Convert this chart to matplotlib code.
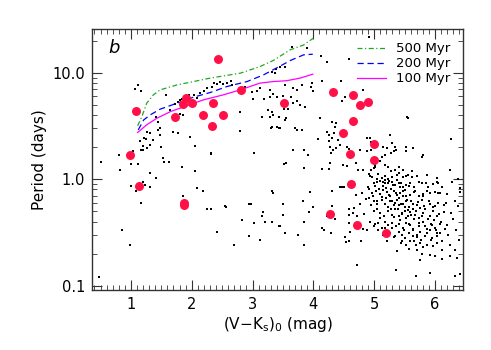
import matplotlib
matplotlib.use("Agg")
import matplotlib.pyplot as plt
from matplotlib.ticker import FixedLocator, LogLocator, MultipleLocator, NullFormatter
import numpy as np

# ---- data ----
# field / comparison stars (black dots): (V-Ks)0, period (days)
dots_x = [
    # lower-left
    0.48, 0.51, 0.81, 0.82, 0.86, 0.99, 1.00, 1.04, 1.11, 1.00, 1.08, 1.16, 1.20, 1.16, 1.20, 1.23,
    1.32, 1.32, 1.41, 1.53, 1.55, 1.63, 1.84, 1.86, 2.05, 2.08, 2.18, 2.32, 2.25, 2.32, 2.42, 2.54,
    2.56, 2.70, 2.83, 2.94, 2.97, 2.94, 3.02, 3.03, 3.13, 3.15, 3.17, 3.20, 3.32, 3.32, 3.34, 3.44,
    # upper-left
    1.07, 1.11, 1.16, 1.21, 1.25, 1.27, 1.32, 1.15, 1.20, 1.26, 1.32, 1.36, 1.44, 1.47, 1.48, 1.45,
    1.42, 1.50, 1.58, 1.65, 1.70, 1.77, 1.73, 1.77, 1.80, 1.86, 1.81, 1.84, 1.97, 2.06, 1.95, 2.03,
    2.08, 2.14, 2.20, 2.25, 2.33, 2.36, 2.41, 2.46, 2.52, 2.58, 2.64, 2.66, 2.88, 2.80, 2.80, 2.31,
    3.01, 3.15, 3.29, 3.32, 3.26, 3.32, 3.43, 3.18, 3.28, 3.34, 2.99, 3.07, 3.12,
    # upper-right
    4.92, 4.58, 4.12, 4.22, 3.89, 3.65, 3.54, 3.45, 3.32, 3.37, 3.39, 3.29, 3.54, 3.67, 3.73, 3.81,
    3.96, 3.99, 3.97, 4.14, 4.45, 3.50, 3.63, 3.67, 3.73, 3.86, 3.78, 3.40, 3.59, 3.52, 3.43, 3.33,
    3.55, 3.54, 4.11, 4.30, 4.47, 4.52, 4.81, 4.36, 4.38, 3.31, 3.40, 3.45, 3.70, 3.73, 3.81, 4.07,
    4.22, 4.25, 4.30, 4.26, 4.41, 4.34, 4.88, 4.93, 4.94, 5.26, 5.54, 5.56, 6.27, 4.27, 4.38, 4.44,
    4.55, 4.59, 5.15, 5.21, 5.29, 5.34, 5.53, 5.64,
    # dense red-dwarf cluster
    3.67, 3.84, 3.91, 4.29, 4.32, 4.77, 4.88, 4.95, 5.12, 5.18, 5.28, 5.32, 5.36, 5.53, 5.78, 5.81,
    3.51, 3.55, 3.84, 4.14, 4.27, 4.26, 4.49, 4.58, 4.56, 4.70, 4.74, 4.81, 4.95, 4.99, 5.01, 5.18,
    5.23, 6.25,
    4.92, 4.93, 5.27, 5.34, 5.37, 5.41, 5.47, 5.53, 5.56, 5.62, 5.70, 6.03, 5.29, 5.04, 5.12, 5.18,
    5.23,
    4.99, 5.05, 5.15, 5.18, 5.23, 5.29, 5.34, 5.40, 5.44, 5.48, 5.52, 5.59, 5.65, 5.73, 5.78, 5.85,
    5.89, 5.96, 6.03, 6.05, 6.38, 6.41, 4.47, 4.50, 4.43, 3.95, 4.30, 4.70,
    4.92, 4.96, 5.03, 5.10, 5.15, 5.21, 5.26, 5.32, 5.37, 5.42, 5.48, 5.53, 5.59, 5.65, 5.74, 5.81,
    5.86, 5.92, 6.00, 6.05, 6.09, 6.41,
    4.92, 4.99, 5.04, 5.12, 5.18, 5.26, 5.32, 5.37, 5.41, 5.47, 5.52, 5.58, 5.64, 5.70, 5.78, 5.82,
    5.92, 6.00, 6.05, 6.14, 6.38, 4.30, 4.00, 3.50, 3.83, 4.58, 4.66,
    4.99, 5.04, 5.10, 5.16, 5.23, 5.29, 5.34, 5.40, 5.45, 5.51, 5.55, 5.59, 5.67, 5.74, 5.81, 5.91,
    5.97, 6.03, 6.14, 6.27, 4.65, 4.58, 3.92, 4.22,
    4.93, 5.00, 5.07, 5.12, 5.18, 5.23, 5.30, 5.36, 5.41, 5.47, 5.53, 5.59, 5.64, 5.73, 5.80, 5.87,
    5.95, 6.00, 6.08, 6.19, 3.50, 3.84, 4.14, 4.17, 4.36, 4.58, 4.60, 4.81, 4.88, 5.07, 5.18,
    5.26, 5.33, 5.40, 5.45, 5.51, 5.58, 5.64, 5.70, 5.76, 5.84, 5.91, 5.95, 6.03, 6.09, 3.45, 3.54,
    3.75, 4.29, 4.52, 4.54, 4.59, 4.79,
    5.45, 5.53, 5.59, 5.69, 5.75, 5.81, 5.86, 5.97, 6.03, 6.11, 6.25, 3.85, 5.38,
    5.70, 5.78, 5.92, 6.00, 6.11, 6.25, 6.33, 6.36, 5.75,
    4.72, 5.36, 5.68, 5.91, 6.33, 6.41,
    # extra core of the cluster
    4.97, 5.02, 5.06, 5.08, 5.10, 5.13, 5.14, 5.17, 5.19, 5.20, 5.22, 5.24, 5.25, 5.27, 5.28, 5.30,
    5.31, 5.33, 5.35, 5.36, 5.38, 5.39, 5.40, 5.42, 5.43, 5.44, 5.46, 5.47, 5.49, 5.50, 5.51, 5.53,
    5.54, 5.56, 5.57, 5.58, 5.60, 5.61, 5.63, 5.64, 5.66, 5.67, 5.69, 5.71, 5.72, 5.74, 5.76, 5.77,
    5.79, 5.80, 5.83, 5.84, 5.86, 5.88, 5.90, 5.93, 5.94, 5.97, 5.99, 6.02, 6.04, 6.06, 6.10, 6.12,
    6.16, 6.18, 6.22, 6.30, 6.35, 6.40, 5.05, 5.09, 4.98, 4.95, 4.90, 4.86, 4.84, 4.80, 4.76, 4.72,
    5.01, 5.14, 5.21, 5.29, 5.35, 5.44, 5.58, 5.65, 5.02, 5.10, 5.40, 5.48, 5.62, 5.87, 6.12, 6.20,
    6.28, 6.33,
]
dots_p = [
    # lower-left
    0.12, 1.45, 1.69, 1.22, 0.33, 0.24, 1.39, 1.82, 1.39, 0.87, 0.78, 1.86, 1.88, 0.60, 0.94, 0.89,
    1.14, 0.84, 1.02, 1.57, 1.46, 1.46, 1.31, 0.69, 1.18, 0.83, 0.78, 1.74, 0.53, 0.53, 0.32, 0.56,
    0.55, 0.24, 0.41, 0.59, 0.59, 0.29, 0.39, 1.75, 0.27, 0.45, 0.49, 0.40, 0.40, 0.78, 0.74, 0.36,
    # upper-left
    7.0, 7.6, 6.75, 2.43, 2.38, 2.8, 2.7, 2.3, 2.05, 1.95, 2.1, 2.34, 2.9, 2.6, 3.0, 3.47,
    3.8, 2.02, 6.15, 4.48, 2.8, 2.74, 5.1, 5.32, 4.1, 4.0, 5.55, 5.7, 2.51, 2.05, 6.23, 6.19,
    5.76, 6.42, 6.75, 7.15, 7.41, 7.97, 7.8, 8.25, 7.85, 8.07, 8.37, 7.68, 7.41, 4.31, 2.84, 1.75,
    5.7, 3.87, 3.87, 4.31, 4.48, 3.08, 3.0, 5.64, 5.89, 6.32, 6.65, 6.75, 7.15,
    # upper-right
    21.8, 13.5, 14.4, 12.7, 17.0, 17.3, 11.4, 11.4, 10.2, 9.9, 10.8, 6.89, 7.68, 7.15, 6.89, 7.68,
    7.41, 6.75, 8.07, 8.43, 8.43, 6.06, 5.97, 5.17, 5.37, 4.81, 5.0, 5.89, 4.54, 4.54, 3.87, 3.96,
    3.74, 3.6, 3.74, 3.47, 5.37, 5.97, 6.8, 3.12, 3.36, 3.0, 3.12, 3.0, 3.0, 2.9, 2.9, 2.38,
    2.8, 2.6, 2.43, 2.3, 2.34, 2.7, 2.43, 2.43, 2.25, 2.6, 3.87, 3.74, 2.38, 2.02, 1.95, 2.1,
    2.02, 1.91, 2.02, 1.95, 2.18, 2.02, 2.02, 1.98,
    # dense red-dwarf cluster
    1.86, 1.88, 1.67, 1.75, 1.88, 1.86, 1.82, 1.88, 1.63, 1.69, 1.75, 1.82, 1.88, 1.82, 1.61, 1.67,
    1.39, 1.41, 1.27, 1.24, 1.41, 1.24, 1.36, 1.61, 1.33, 1.41, 1.22, 1.22, 1.22, 1.27, 1.36, 1.36,
    1.29, 1.22,
    1.12, 1.07, 1.18, 1.21, 1.10, 1.14, 1.21, 1.06, 1.10, 1.04, 1.07, 1.02, 1.04, 1.00, 1.02, 0.98,
    1.00,
    0.92, 0.95, 0.95, 0.92, 0.92, 0.95, 0.88, 0.92, 0.93, 0.85, 0.88, 0.92, 0.84, 0.95, 0.93, 0.92,
    0.85, 0.90, 0.95, 0.93, 1.00, 0.82, 0.84, 0.84, 0.85, 0.75, 0.77, 0.71,
    0.81, 0.74, 0.77, 0.73, 0.79, 0.75, 0.69, 0.77, 0.71, 0.74, 0.77, 0.69, 0.71, 0.75, 0.69, 0.73,
    0.77, 0.74, 0.75, 0.74, 0.74, 0.75,
    0.66, 0.62, 0.59, 0.64, 0.59, 0.62, 0.57, 0.64, 0.57, 0.59, 0.62, 0.55, 0.59, 0.57, 0.64, 0.56,
    0.59, 0.56, 0.60, 0.57, 0.56, 0.56, 0.55, 0.59, 0.62, 0.53, 0.54,
    0.50, 0.52, 0.48, 0.45, 0.50, 0.46, 0.52, 0.45, 0.48, 0.50, 0.45, 0.49, 0.46, 0.43, 0.48, 0.45,
    0.50, 0.45, 0.49, 0.48, 0.48, 0.46, 0.49, 0.45,
    0.40, 0.36, 0.39, 0.35, 0.40, 0.37, 0.39, 0.36, 0.38, 0.35, 0.39, 0.37, 0.33, 0.36, 0.40, 0.34,
    0.37, 0.35, 0.38, 0.37, 0.46, 0.40, 0.35, 0.33, 0.42, 0.39, 0.32, 0.34, 0.33, 0.33, 0.35,
    0.31, 0.285, 0.32, 0.30, 0.28, 0.31, 0.29, 0.285, 0.32, 0.29, 0.33, 0.28, 0.31, 0.31, 0.36, 0.31,
    0.30, 0.31, 0.285, 0.255, 0.26, 0.26,
    0.26, 0.24, 0.26, 0.24, 0.25, 0.23, 0.24, 0.235, 0.25, 0.215, 0.24, 0.24, 0.21,
    0.217, 0.20, 0.195, 0.19, 0.177, 0.19, 0.217, 0.18, 0.175,
    0.157, 0.139, 0.124, 0.131, 0.124, 0.128,
    # extra core of the cluster
    1.05, 0.87, 1.12, 0.80, 0.97, 0.68, 0.86, 1.08, 0.66, 0.82, 0.55, 0.71, 0.97, 0.52, 0.80, 0.63,
    0.88, 0.44, 0.60, 0.74, 0.99, 0.53, 0.67, 0.41, 0.84, 0.58, 0.47, 0.70, 0.33, 0.55, 0.79, 0.43,
    0.64, 0.51, 0.38, 0.86, 0.46, 0.63, 0.34, 0.53, 0.42, 0.78, 0.50, 0.30, 0.61, 0.39, 0.54, 0.27,
    0.45, 0.70, 0.36, 0.52, 0.31, 0.42, 0.62, 0.38, 0.27, 0.55, 0.41, 0.33, 0.29, 0.47, 0.40, 0.26,
    0.34, 0.60, 0.30, 0.42, 0.33, 0.27, 0.63, 0.43, 0.70, 0.57, 0.85, 0.65, 0.47, 0.74, 0.58, 0.45,
    0.38, 0.30, 0.26, 0.35, 0.29, 0.25, 0.22, 0.26, 1.30, 1.48, 1.30, 1.05, 1.18, 1.10, 0.85, 0.72,
    0.95, 0.62,
]

# cluster members (red circles)
red_x = [2.43, 1.09, 2.81, 1.91, 1.85, 2.00, 2.35, 1.73, 2.19, 2.52, 2.34, 0.98, 1.13, 1.88, 1.88,
         3.52, 4.33, 4.65, 4.76, 4.90, 4.65, 4.49, 4.99, 4.61, 4.99, 4.62, 4.27, 4.72, 5.20]
red_p = [13.4, 4.35, 6.89, 5.80, 5.09, 5.24, 5.24, 3.87, 3.96, 4.02, 3.17, 1.67, 0.86, 0.574, 0.60,
         5.2, 6.6, 6.15, 4.95, 5.35, 3.53, 2.70, 2.15, 1.73, 1.50, 0.91, 0.47, 0.37, 0.313]

# gyrochrones
g100_x = [1.11, 1.26, 1.43, 1.65, 1.92, 2.19, 2.52, 2.80, 3.12, 3.34, 3.56, 3.78, 3.99]
g100_p = [2.74, 3.24, 3.74, 4.31, 4.88, 5.55, 6.19, 6.90, 7.97, 8.25, 8.40, 8.88, 9.68]
g200_x = [1.12, 1.21, 1.32, 1.48, 1.76, 2.03, 2.30, 2.58, 2.91, 3.18, 3.45, 3.62, 3.84, 3.99]
g200_p = [2.90, 3.60, 4.02, 4.54, 5.17, 5.89, 6.50, 7.41, 8.25, 9.53, 11.5, 13.0, 14.7, 14.9]
g500_x = [1.11, 1.18, 1.26, 1.37, 1.48, 1.76, 2.03, 2.30, 2.80, 3.12, 3.34, 3.62, 3.84, 4.00]
g500_p = [3.17, 3.87, 5.17, 6.19, 6.89, 7.68, 8.25, 8.88, 9.89, 11.4, 13.0, 16.4, 18.2, 21.1]

legend_labels = ["500 Myr", "200 Myr", "100 Myr"]
ytick_vals = [0.1, 1.0, 10.0]
ytick_labels = ["0.1", "1.0", "10.0"]
xtick_vals = [1, 2, 3, 4, 5, 6]

# ---- plot ----
plt.rcParams['font.family'] = ['DejaVu Sans']
fig = plt.figure(figsize=(4.91, 3.50), dpi=100)
ax = fig.add_axes([92/491, 60/350, (463-92)/491, (290-29)/350])

ax.scatter(dots_x, dots_p, s=3, marker='s', color='black', linewidths=0, zorder=2)
l5, = ax.plot(g500_x, g500_p, color='#1fa81f', lw=0.9, linestyle=(0, (4, 2, 1, 2)), zorder=3)
l2, = ax.plot(g200_x, g200_p, color='#0000ff', lw=0.9, linestyle=(0, (5, 3)), zorder=3)
l1, = ax.plot(g100_x, g100_p, color='#ff00ff', lw=0.9, linestyle='-', zorder=3)
ax.scatter(red_x, red_p, s=42, color='#ff1148', linewidths=0, zorder=4)

ax.set_yscale('log')
ax.set_xlim(0.36, 6.46)
ax.set_ylim(0.091, 25.7)

ax.yaxis.set_major_locator(FixedLocator(ytick_vals))
ax.set_yticklabels(ytick_labels)
ax.yaxis.set_minor_locator(LogLocator(base=10, subs=np.arange(2, 10)))
ax.yaxis.set_minor_formatter(NullFormatter())
ax.xaxis.set_major_locator(FixedLocator(xtick_vals))
ax.xaxis.set_minor_locator(MultipleLocator(0.1))

spine_col = '#333333'
for s in ax.spines.values():
    s.set_color(spine_col)
    s.set_linewidth(1.0)
ax.tick_params(which='both', direction='in', top=True, right=True, colors=spine_col,
               labelcolor='black', labelsize=10.5)
ax.tick_params(which='major', length=7, width=0.8, pad=5)
ax.tick_params(which='minor', length=3.5, width=0.6)

ax.set_xlabel(r"(V$-$K$_\mathrm{s}$)$_0$ (mag)", fontsize=11, labelpad=2)
ax.set_ylabel("Period (days)", fontsize=11, labelpad=4)

ax.text(0.045, 0.96, "b", transform=ax.transAxes, fontsize=13, style='italic',
        ha='left', va='top')

leg = ax.legend([l5, l2, l1], legend_labels, loc='upper right', frameon=False,
                fontsize=9.5, handlelength=2.2, handletextpad=0.7, labelspacing=0.15,
                borderaxespad=0.6)

fig.savefig("out.png", dpi=100)
